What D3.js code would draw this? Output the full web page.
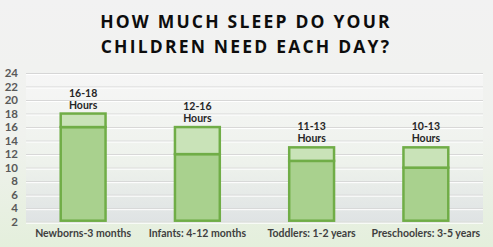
<!DOCTYPE html>
<html>
<head>
<meta charset="utf-8">
<script src="https://cdn.jsdelivr.net/npm/d3@7"></script>
<style>
  html, body { margin: 0; padding: 0; }
  body { width: 493px; height: 247px; overflow: hidden; }
  svg { display: block; font-family: "Open Sans", sans-serif; }
</style>
</head>
<body>
<svg id="chart"></svg>
<script>
const categories = ["Newborns-3 months", "Infants: 4-12 months", "Toddlers: 1-2 years", "Preschoolers: 3-5 years"];
const minHours = [16, 12, 11, 10];
const maxHours = [18, 16, 13, 13];
const rangeLabels = ["16-18", "12-16", "11-13", "10-13"];
const yTicks = [2, 4, 6, 8, 10, 12, 14, 16, 18, 20, 22, 24];
const titleLines = ["HOW MUCH SLEEP DO YOUR", "CHILDREN NEED EACH DAY?"];

const width = 493, height = 247;
const margin = { top: 73, right: 10, bottom: 26, left: 26 };
const labelFont = "Lato, 'Open Sans', sans-serif";

const svg = d3.select("#chart").attr("width", width).attr("height", height);
const defs = svg.append("defs");

let bgGrad = defs.append("linearGradient").attr("id", "bg")
  .attr("x1", 0).attr("y1", 0).attr("x2", 0).attr("y2", 1);
bgGrad.append("stop").attr("offset", "0%").attr("stop-color", "#f2f2f2");
bgGrad.append("stop").attr("offset", "55%").attr("stop-color", "#f0f2ee");
bgGrad.append("stop").attr("offset", "100%").attr("stop-color", "#e4efdc");

let plotGrad = defs.append("linearGradient").attr("id", "plotbg")
  .attr("x1", 0).attr("y1", 0).attr("x2", 0).attr("y2", 1);
plotGrad.append("stop").attr("offset", "0%").attr("stop-color", "#f6f6f6");
plotGrad.append("stop").attr("offset", "60%").attr("stop-color", "#eef2ec");
plotGrad.append("stop").attr("offset", "100%").attr("stop-color", "#dfe3e4");

svg.append("rect").attr("width", width).attr("height", height).attr("fill", "url(#bg)");

// title
svg.append("g")
  .selectAll("text")
  .data(titleLines)
  .join("text")
  .attr("x", 246)
  .attr("y", (d, i) => 28 + i * 25)
  .attr("text-anchor", "middle")
  .style("font-size", "17.5px")
  .style("font-weight", "bold")
  .style("letter-spacing", "2.2px")
  .style("fill", "#0d0d0d")
  .text((d) => d);

let x = d3.scaleBand()
  .domain(categories)
  .range([margin.left, width - margin.right])
  .paddingInner(0.59)
  .paddingOuter(0.295);

let y = d3.scaleLinear()
  .domain([2, 24])
  .range([height - margin.bottom + 0.7, margin.top]);

svg.append("rect")
  .attr("x", margin.left)
  .attr("y", y(24))
  .attr("width", width - margin.right - margin.left)
  .attr("height", y(2) - y(24))
  .attr("fill", "url(#plotbg)");

// gridlines
let grid = svg.append("g")
  .attr("transform", `translate(${margin.left},0)`)
  .call(d3.axisLeft(y).tickValues(yTicks).tickSize(-(width - margin.right - margin.left)).tickFormat(""));
grid.select(".domain").remove();
grid.selectAll("line").style("stroke", "#d6d6d6").style("stroke-width", 1);
grid.selectAll(".tick").append("line")
  .attr("x2", width - margin.right - margin.left)
  .attr("y1", 1).attr("y2", 1)
  .style("stroke", "#ffffff").style("stroke-width", 1);

// y axis labels
let yAxis = svg.append("g")
  .attr("transform", "translate(18,0)")
  .call(d3.axisLeft(y).tickValues(yTicks).tickSize(0).tickPadding(0));
yAxis.select(".domain").remove();
yAxis.selectAll("text")
  .style("font-family", labelFont)
  .style("font-size", "11.5px")
  .style("font-weight", "bold")
  .style("fill", "#595959");

// x axis labels
let xAxis = svg.append("g")
  .attr("transform", `translate(0,${height - 17})`)
  .call(d3.axisBottom(x).tickSize(0).tickPadding(0));
xAxis.select(".domain").remove();
xAxis.selectAll("text")
  .attr("dy", "0.71em")
  .style("font-family", labelFont)
  .style("font-size", "10.5px")
  .style("font-weight", "bold")
  .style("fill", "#404040");

let rows = categories.map((c, i) => ({ cat: c, lo: minHours[i], hi: maxHours[i], label: rangeLabels[i] }));

let bars = svg.append("g").selectAll("g").data(rows).join("g");

bars.append("rect")
  .attr("x", (d) => x(d.cat) + 1)
  .attr("y", (d) => y(d.lo))
  .attr("width", x.bandwidth() - 2)
  .attr("height", (d) => y(2) - y(d.lo) - 1)
  .attr("fill", "#a9d18e")
  .attr("stroke", "#70ad47")
  .attr("stroke-width", 2.5);

bars.append("rect")
  .attr("x", (d) => x(d.cat) + 1)
  .attr("y", (d) => y(d.hi))
  .attr("width", x.bandwidth() - 2)
  .attr("height", (d) => y(d.lo) - y(d.hi))
  .attr("fill", "#c9e3b8")
  .attr("stroke", "#70ad47")
  .attr("stroke-width", 2.5);

bars.append("text")
  .attr("x", (d) => x(d.cat) + x.bandwidth() / 2)
  .attr("y", (d) => y(d.hi) - 17)
  .attr("text-anchor", "middle")
  .style("font-family", labelFont)
  .style("font-size", "10.5px")
  .style("font-weight", "bold")
  .style("fill", "#262626")
  .text((d) => d.label);

bars.append("text")
  .attr("x", (d) => x(d.cat) + x.bandwidth() / 2)
  .attr("y", (d) => y(d.hi) - 5)
  .attr("text-anchor", "middle")
  .style("font-family", labelFont)
  .style("font-size", "10.5px")
  .style("font-weight", "bold")
  .style("fill", "#262626")
  .text("Hours");
</script>
</body>
</html>
